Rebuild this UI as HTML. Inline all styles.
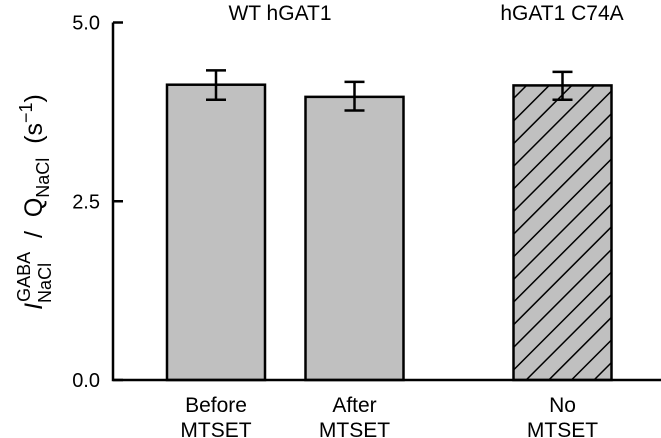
<!DOCTYPE html>
<html><head><meta charset="utf-8"><style>
body{margin:0;background:#fff;}
svg{display:block;font-family:"Liberation Sans",sans-serif;}
</style></head><body>
<svg id="chart" width="661" height="438" viewBox="0 0 661 438">
<defs>
<pattern id="hatch" patternUnits="userSpaceOnUse" width="16" height="16" patternTransform="rotate(45)">
<rect width="16" height="16" fill="#c0c0c0"/>
<line x1="0" y1="0" x2="0" y2="16" stroke="#000" stroke-width="3"/>
</pattern>
</defs>
<g id="marks"></g>
<text x="280" y="20" font-size="21" text-anchor="middle">WT hGAT1</text>
<text x="562" y="20" font-size="21" text-anchor="middle">hGAT1 C74A</text>
<text transform="translate(42,202) rotate(-90)" font-size="25" text-anchor="middle" xml:space="preserve"><tspan font-style="italic">I</tspan><tspan font-size="18" dy="9">NaCl</tspan><tspan font-size="18" dx="-39" dy="-21">GABA</tspan><tspan dy="12">  /  Q</tspan><tspan font-size="18" dy="7">NaCl</tspan><tspan dy="-7">  (s</tspan><tspan font-size="18" dy="-10">−1</tspan><tspan dy="10">)</tspan></text>
</svg>
<script>
const categories=["Before\nMTSET","After\nMTSET","No\nMTSET"];
const values=[4.13,3.96,4.12];
const errUpper=[4.33,4.17,4.31];
const errLower=[3.92,3.77,3.92];
const hatched=[false,false,true];
const yTicks=[0,2.5,5];
const yTickLabels=["0.0","2.5","5.0"];
const slotCenters=[216,354.5,562.5];
const y=v=>380-v*71.5;
const bw=98;
const g=document.getElementById('marks');
const NS="http://www.w3.org/2000/svg";
function mk(t,a){const e=document.createElementNS(NS,t);for(const k in a)e.setAttribute(k,a[k]);return e;}
categories.forEach((c,i)=>{
 const cx=slotCenters[i];
 const r=mk('rect',{x:cx-bw/2,y:y(values[i]),width:bw,height:y(0)-y(values[i]),fill:hatched[i]?'url(#hatch)':'#c0c0c0',stroke:'#000','stroke-width':2.5});
 
 
 g.appendChild(r);
 const eb=mk('path',{d:`M${cx},${y(errUpper[i])}V${y(errLower[i])}M${cx-10},${y(errUpper[i])}H${cx+10}M${cx-10},${y(errLower[i])}H${cx+10}`,stroke:'#000','stroke-width':2.5,fill:'none'});
 
 
 g.appendChild(eb);
 c.split("\n").forEach((line,j)=>{
  const t=mk('text',{x:cx,y:412+j*25,'font-size':21,'text-anchor':'middle'});
  t.textContent=line;
  
  
  g.appendChild(t);
 });
});
const ax=mk('path',{d:`M113,${y(5)}V${y(0)}H661`,stroke:'#000','stroke-width':2.5,fill:'none'});


g.appendChild(ax);
yTicks.forEach((v,i)=>{
 const tk=mk('line',{x1:113,x2:123,y1:y(v),y2:y(v),stroke:'#000','stroke-width':2.5});
 
 
 g.appendChild(tk);
 const t=mk('text',{x:100,y:y(v)+7,'font-size':20,'text-anchor':'end'});
 t.textContent=yTickLabels[i];
 
 
 g.appendChild(t);
});
</script>
</body></html>
